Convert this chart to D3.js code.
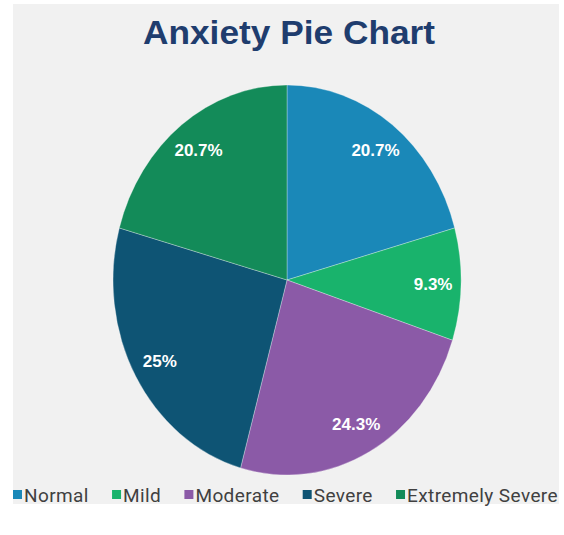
<!DOCTYPE html>
<html>
<head>
<meta charset="utf-8">
<script src="https://cdn.jsdelivr.net/npm/d3@7"></script>
<style>
  html, body { margin: 0; padding: 0; background: #ffffff; }
  svg { display: block; }
</style>
</head>
<body>
<svg id="chart" width="564" height="535"></svg>
<script>
const categories = ["Normal", "Mild", "Moderate", "Severe", "Extremely Severe"];
const values = [20.7, 9.3, 24.3, 25, 20.7];
const labels = ["20.7%", "9.3%", "24.3%", "25%", "20.7%"];
const colors = ["#1a88b8", "#19b36c", "#8b5aa7", "#0e5474", "#138b59"];
const title = "Anxiety Pie Chart";

const W = 564, H = 535;
const svg = d3.select("#chart");

// background panel
svg.append("rect").attr("x", 13).attr("y", 4).attr("width", 546).attr("height", 500)
  .attr("fill", "#f1f1f1");

// title
svg.append("text")
  .attr("x", 289).attr("y", 44)
  .attr("text-anchor", "middle")
  .attr("font-family", "'Liberation Sans', Arial, sans-serif")
  .attr("font-weight", "bold")
  .attr("font-size", 33)
  .attr("fill", "#1f3d6e")
  .attr("textLength", 292)
  .attr("lengthAdjust", "spacingAndGlyphs")
  .text(title);

// pie (elliptical)
const cx = 287, cy = 280, rx = 174, ry = 195;
const pie = d3.pie().sort(null).value(d => d)(values);
const arc = d3.arc().innerRadius(0).outerRadius(rx);

const g = svg.append("g").attr("transform", `translate(${cx},${cy})`);
const pieG = g.append("g").attr("transform", `scale(1, ${ry / rx})`);

pieG.selectAll("path")
  .data(pie)
  .join("path")
  .attr("d", arc)
  .attr("fill", (d, i) => colors[i])
  .attr("stroke", "rgba(255,255,255,0.3)")
  .attr("stroke-width", 1)
  .attr("vector-effect", "non-scaling-stroke");

const labelR = 0.84;
g.selectAll("text.lbl")
  .data(pie)
  .join("text")
  .attr("class", "lbl")
  .attr("x", d => {
    const a = (d.startAngle + d.endAngle) / 2;
    return Math.sin(a) * rx * labelR;
  })
  .attr("y", d => {
    const a = (d.startAngle + d.endAngle) / 2;
    return -Math.cos(a) * ry * labelR;
  })
  .attr("dy", "0.36em")
  .attr("text-anchor", "middle")
  .attr("font-family", "'Liberation Sans', Arial, sans-serif")
  .attr("font-weight", "bold")
  .attr("font-size", 17)
  .attr("fill", "#ffffff")
  .text((d, i) => labels[i]);

// legend (flow layout)
const legend = svg.append("g");
const legY = 495;
const items = legend.selectAll("g.item")
  .data(categories)
  .join("g").attr("class", "item");
items.append("rect")
  .attr("width", 9).attr("height", 9)
  .attr("y", legY - 5)
  .attr("fill", (d, i) => colors[i]);
items.append("text")
  .attr("x", 11)
  .attr("y", legY)
  .attr("dy", "0.36em")
  .attr("font-family", "Roboto, 'Liberation Sans', sans-serif")
  .attr("font-size", 19)
  .attr("letter-spacing", 0.4)
  .attr("fill", "#404040")
  .text(d => d);

const widths = [];
items.select("text").each(function() { widths.push(this.getComputedTextLength()); });
const startX = 13, endX = 558;
const itemW = widths.map(w => 11 + w);
const totalItems = d3.sum(itemW);
const gap = Math.max(8, (endX - startX - totalItems) / (categories.length - 1));
let xpos = startX;
items.attr("transform", (d, i) => {
  const t = `translate(${xpos},0)`;
  xpos += itemW[i] + gap;
  return t;
});
</script>
</body>
</html>
